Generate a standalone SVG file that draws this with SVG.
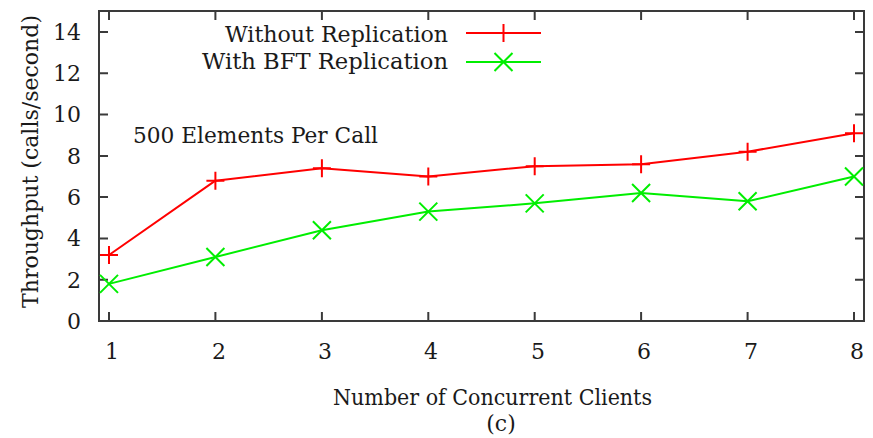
<svg xmlns="http://www.w3.org/2000/svg" width="873" height="438" viewBox="0 0 873 438">
  <style>
    .frame { fill: none; stroke: #3a3a3a; stroke-width: 2; }
    .tick { stroke: #3a3a3a; stroke-width: 2; }
    .lbl { font-family: "DejaVu Serif", "Liberation Serif", serif; font-size: 22px; fill: #1a1a1a; }
    .red { fill: none; stroke: #ff0000; stroke-width: 2; stroke-linejoin: round; }
    .green { fill: none; stroke: #00ee00; stroke-width: 2; stroke-linejoin: round; }
  </style>
  <defs>
    <path id="plus" d="M-9,0 H9 M0,-9 V9"/>
    <path id="cross" d="M-9,-9 L9,9 M-9,9 L9,-9"/>
  </defs>
  <rect width="873" height="438" fill="#ffffff"/>

  <!-- plot frame and tics -->
  <g id="axes">
    <rect class="frame" x="99" y="11" width="765" height="310"/>
    <g class="tick">
      <!-- y tics, left and right -->
      <path d="M99,279.7 h9 M99,238.4 h9 M99,197.1 h9 M99,155.9 h9 M99,114.6 h9 M99,73.3 h9 M99,32 h9"/>
      <path d="M864,279.7 h-9 M864,238.4 h-9 M864,197.1 h-9 M864,155.9 h-9 M864,114.6 h-9 M864,73.3 h-9 M864,32 h-9"/>
      <!-- x tics, bottom and top -->
      <path d="M109,321 v-9 M215.4,321 v-9 M321.9,321 v-9 M428.3,321 v-9 M534.7,321 v-9 M641.1,321 v-9 M747.6,321 v-9 M854,321 v-9"/>
      <path d="M109,11 v9 M215.4,11 v9 M321.9,11 v9 M428.3,11 v9 M534.7,11 v9 M641.1,11 v9 M747.6,11 v9 M854,11 v9"/>
    </g>
  </g>

  <!-- tic labels -->
  <g id="ytics" class="lbl" text-anchor="end">
    <text x="81" y="329">0</text>
    <text x="81" y="288">2</text>
    <text x="81" y="246">4</text>
    <text x="81" y="205">6</text>
    <text x="81" y="164">8</text>
    <text x="81" y="122">10</text>
    <text x="81" y="81">12</text>
    <text x="81" y="40">14</text>
  </g>
  <g id="xtics" class="lbl" text-anchor="middle">
    <text x="112" y="359">1</text>
    <text x="219" y="359">2</text>
    <text x="325" y="359">3</text>
    <text x="431" y="359">4</text>
    <text x="538" y="359">5</text>
    <text x="644" y="359">6</text>
    <text x="751" y="359">7</text>
    <text x="857" y="359">8</text>
  </g>

  <!-- axis titles -->
  <g id="ylabel">
    <text class="lbl" x="0" y="0" text-anchor="middle" transform="translate(38,161.5) rotate(-90)" textLength="293" lengthAdjust="spacingAndGlyphs">Throughput (calls/second)</text>
  </g>
  <g id="xlabel">
    <text class="lbl" x="333" y="405" textLength="319" lengthAdjust="spacingAndGlyphs">Number of Concurrent Clients</text>
    <text class="lbl" x="501" y="431" text-anchor="middle">(c)</text>
  </g>
  <g id="annotation">
    <text class="lbl" x="133" y="143" textLength="245" lengthAdjust="spacingAndGlyphs">500 Elements Per Call</text>
  </g>

  <!-- data series -->
  <g id="connectors">
    <polyline id="without-replication" class="red" points="109,254.95 215.4,180.65 321.9,168.26 428.3,176.52 534.7,166.2 641.1,164.14 747.6,151.75 854,133.18"/>
    <polyline id="with-bft" class="green" points="109,283.85 215.4,257.02 321.9,230.18 428.3,211.61 534.7,203.35 641.1,193.03 747.6,201.29 854,176.52"/>
  </g>
  <g id="markers-red" class="red" stroke-width="1.8">
    <use href="#plus" x="109" y="254.95"/>
    <use href="#plus" x="215.4" y="180.65"/>
    <use href="#plus" x="321.9" y="168.26"/>
    <use href="#plus" x="428.3" y="176.52"/>
    <use href="#plus" x="534.7" y="166.2"/>
    <use href="#plus" x="641.1" y="164.14"/>
    <use href="#plus" x="747.6" y="151.75"/>
    <use href="#plus" x="854" y="133.18"/>
  </g>
  <g id="markers-green" class="green" stroke-width="1.5">
    <use href="#cross" x="109" y="283.85"/>
    <use href="#cross" x="215.4" y="257.02"/>
    <use href="#cross" x="321.9" y="230.18"/>
    <use href="#cross" x="428.3" y="211.61"/>
    <use href="#cross" x="534.7" y="203.35"/>
    <use href="#cross" x="641.1" y="193.03"/>
    <use href="#cross" x="747.6" y="201.29"/>
    <use href="#cross" x="854" y="176.52"/>
  </g>

  <!-- key -->
  <g id="legend">
    <text class="lbl" x="225" y="42" textLength="223" lengthAdjust="spacingAndGlyphs">Without Replication</text>
    <text class="lbl" x="202" y="69" textLength="246" lengthAdjust="spacingAndGlyphs">With BFT Replication</text>
    <path class="red" d="M466,33 H541"/>
    <use class="red" href="#plus" x="503.5" y="33"/>
    <path class="green" d="M466,62 H541"/>
    <use class="green" stroke-width="1.5" href="#cross" x="503.5" y="62"/>
  </g>
</svg>
